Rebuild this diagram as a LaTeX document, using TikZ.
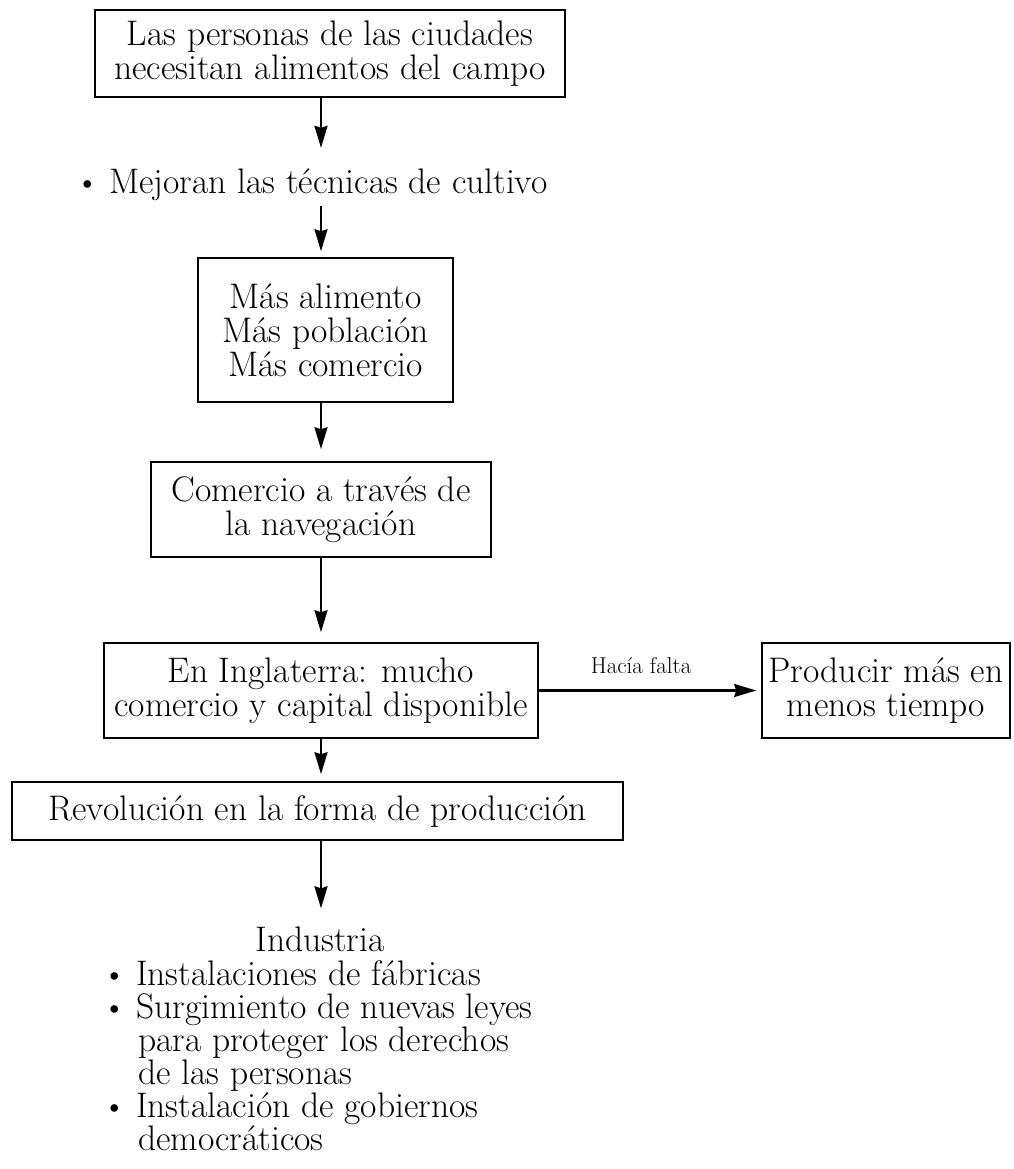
\documentclass[tikz,border=0pt]{standalone}
\usepackage{fontspec}
\usetikzlibrary{arrows.meta}
\newcommand{\vineta}{\makebox[34pt][l]{\fontsize{34}{34}\selectfont\textbullet}}
\begin{document}
\begin{tikzpicture}[x=1pt,y=-1pt,>={Stealth[length=22pt,width=13pt,inset=2pt]},
  caja/.style={draw,line width=1.6pt,align=center,inner xsep=2pt,inner ysep=0pt,font=\fontsize{35.5}{34}\selectfont},
  texto/.style={inner sep=0pt,font=\fontsize{35.5}{33}\selectfont},
  flecha/.style={->,line width=2.3pt}]
\useasboundingbox (0,0) rectangle (1013,1169);
\coordinate (eje) at (321,0);
\node[caja,minimum width=470,minimum height=87] (ciudades) at (330,53.5) {Las personas de las ciudades\\necesitan alimentos del campo};
\node[texto,anchor=west] (cultivo) at (75,185) {\vineta Mejoran las técnicas de cultivo};
\node[caja,minimum width=255,minimum height=144] (mas) at (325.5,330) {Más alimento\\Más población\\Más comercio};
\node[caja,minimum width=340,minimum height=95] (navegacion) at (321,509.5) {Comercio a través de\\la navegación};
\node[caja,minimum width=434,minimum height=95] (inglaterra) at (321,690.5) {En Inglaterra: mucho\\comercio y capital disponible};
\node[caja,minimum width=248,minimum height=95] (producir) at (886,690.5) {Producir más en\\menos tiempo};
\node[caja,minimum width=611,minimum height=58] (revolucion) at (317.5,811) {Revolución en la forma de producción};
\node[texto] (industria) at (320,939) {Industria};
\node[texto,align=left,anchor=north west] (lista) at (102,960) {\vineta Instalaciones de fábricas\\
  \vineta Surgimiento de nuevas leyes\\
  \hspace*{36pt}para proteger los derechos\\
  \hspace*{36pt}de las personas\\
  \vineta Instalación de gobiernos\\
  \hspace*{36pt}democráticos};
\draw[flecha,shorten >=21pt] (ciudades.south -| eje) -- (cultivo.north -| eje);
\draw[flecha,shorten <=5pt,shorten >=6pt] (cultivo.south -| eje) -- (mas.north -| eje);
\draw[flecha,shorten >=12pt] (mas.south -| eje) -- (navegacion.north -| eje);
\draw[flecha,shorten >=10pt] (navegacion.south -| eje) -- (inglaterra.north -| eje);
\draw[flecha,shorten >=7pt] (inglaterra.south -| eje) -- (revolucion.north -| eje);
\draw[flecha,shorten >=18pt] (revolucion.south -| eje) -- (industria.north -| eje);
\draw[flecha,shorten >=5pt] (inglaterra.east) -- (producir.west)
  node[pos=0.46,above=16pt,inner sep=0pt,font=\fontsize{23}{23}\selectfont] (falta) {Hacía falta};
\end{tikzpicture}
\end{document}
